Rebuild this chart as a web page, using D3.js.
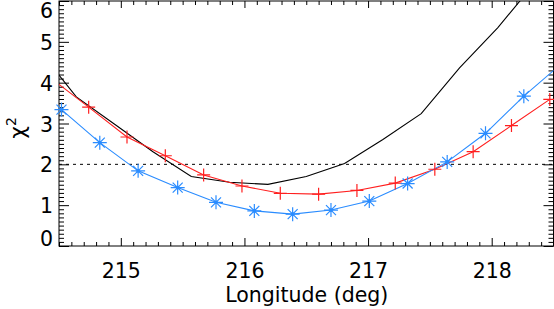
<!DOCTYPE html>
<html>
<head>
<meta charset="utf-8">
<script src="https://cdn.jsdelivr.net/npm/d3@7"></script>
<style>
  body { margin: 0; background: #fff; }
  svg { display: block; }
  text { font-family: "DejaVu Sans", sans-serif; fill: #000; }
</style>
</head>
<body>
<div id="chart"></div>
<script>
// 数据：经度 (deg) 与 χ² 值
const blueLon = [214.52, 214.83, 215.14, 215.46, 215.77, 216.08, 216.39, 216.70, 217.01, 217.32, 217.64, 217.95, 218.26, 218.57];
const blueChi = [3.34, 2.53, 1.84, 1.43, 1.07, 0.86, 0.78, 0.88, 1.10, 1.53, 2.06, 2.76, 3.67, 4.48];

const redLon = [214.43, 214.74, 215.05, 215.36, 215.67, 215.98, 216.29, 216.60, 216.91, 217.22, 217.54, 217.85, 218.16, 218.47];
const redChi = [4.12, 3.40, 2.67, 2.21, 1.74, 1.47, 1.29, 1.27, 1.36, 1.54, 1.88, 2.31, 2.95, 3.59];

const blackLon = [214.33, 214.64, 214.95, 215.26, 215.57, 215.88, 216.19, 216.50, 216.81, 217.12, 217.43, 217.74, 218.05, 218.36];
const blackChi = [4.84, 3.65, 2.98, 2.31, 1.70, 1.56, 1.51, 1.70, 2.02, 2.61, 3.24, 4.36, 5.35, 6.48];

const xTicks = [215, 216, 217, 218];
const yTicks = [0, 1, 2, 3, 4, 5, 6];
const threshold = 2;

const width = 554, height = 309;
const plot = { left: 59, right: 553.5, top: 1, bottom: 246 };

const x = d3.scaleLinear().domain([214.5, 218.5]).range([plot.left, plot.right]);
const y = d3.scaleLinear().domain([0, 6]).range([plot.bottom, plot.top]);

const svg = d3.select('#chart').append('svg')
    .attr('width', width)
    .attr('height', height);

svg.append('clipPath').attr('id', 'clip')
  .append('rect')
    .attr('x', plot.left).attr('y', plot.top)
    .attr('width', plot.right - plot.left).attr('height', plot.bottom - plot.top);

// 次刻度
const xMinor = d3.range(2145, 2186).map(d => d / 10).filter(d => !xTicks.includes(d));
const yMinor = d3.range(0, 61).map(d => d / 10).filter(d => !yTicks.includes(d));

function styleAxis(g) {
    g.select('.domain').remove();
    g.selectAll('line').attr('stroke', '#000');
}

// 底部
svg.append('g').attr('transform', `translate(0,${plot.bottom})`)
    .call(d3.axisBottom(x).tickValues(xTicks).tickSize(-8).tickPadding(17).tickFormat(d3.format('d')))
    .call(styleAxis)
    .call(g => g.selectAll('text').style('font-size', '20.5px'));
svg.append('g').attr('transform', `translate(0,${plot.bottom})`)
    .call(d3.axisBottom(x).tickValues(xMinor).tickSize(-4).tickFormat(''))
    .call(styleAxis);

// 顶部
svg.append('g').attr('transform', `translate(0,${plot.top})`)
    .call(d3.axisTop(x).tickValues(xTicks).tickSize(-7).tickFormat(''))
    .call(styleAxis);
svg.append('g').attr('transform', `translate(0,${plot.top})`)
    .call(d3.axisTop(x).tickValues(xMinor).tickSize(-4).tickFormat(''))
    .call(styleAxis);

// 左侧
svg.append('g').attr('transform', `translate(${plot.left},0)`)
    .call(d3.axisLeft(y).tickValues(yTicks).tickSize(-10).tickPadding(6).tickFormat(d3.format('d')))
    .call(styleAxis)
    .call(g => g.selectAll('text')
        .style('font-size', '20.5px')
        .attr('dy', d => d === 0 ? '-0.02em' : d === 6 ? '0.8em' : '0.37em'));
svg.append('g').attr('transform', `translate(${plot.left},0)`)
    .call(d3.axisLeft(y).tickValues(yMinor).tickSize(-5).tickFormat(''))
    .call(styleAxis);

// 右侧
svg.append('g').attr('transform', `translate(${plot.right},0)`)
    .call(d3.axisRight(y).tickValues(yTicks).tickSize(-10).tickFormat(''))
    .call(styleAxis);
svg.append('g').attr('transform', `translate(${plot.right},0)`)
    .call(d3.axisRight(y).tickValues(yMinor).tickSize(-5).tickFormat(''))
    .call(styleAxis);

// 边框
svg.append('rect')
    .attr('x', plot.left).attr('y', plot.top)
    .attr('width', plot.right - plot.left).attr('height', plot.bottom - plot.top)
    .attr('fill', 'none').attr('stroke', '#000').attr('stroke-width', 1);

// 阈值虚线
svg.append('line')
    .attr('x1', plot.left).attr('x2', plot.right)
    .attr('y1', y(threshold)).attr('y2', y(threshold))
    .attr('stroke', '#000').attr('stroke-width', 1)
    .attr('stroke-dasharray', '3,4');

const lineGen = d3.line().x(d => x(d[0])).y(d => y(d[1]));
const layer = svg.append('g').attr('clip-path', 'url(#clip)');

const series = [
    { lon: blackLon, chi: blackChi, color: '#000000', marker: null },
    { lon: redLon, chi: redChi, color: '#ff1f1f', marker: 'plus' },
    { lon: blueLon, chi: blueChi, color: '#2a8cff', marker: 'star' }
];

const markerPath = {
    plus: 'M-6.5,0H6.5M0,-6.5V6.5',
    star: 'M-7,0H7M0,-7V7M-5,-5L5,5M-5,5L5,-5'
};

series.forEach(s => {
    const pts = s.lon.map((v, i) => [v, s.chi[i]]);
    layer.append('path')
        .datum(pts)
        .attr('fill', 'none')
        .attr('stroke', s.color)
        .attr('stroke-width', 1.1)
        .attr('d', lineGen);

    if (s.marker) {
        const inside = pts.filter(d => d[0] >= 214.5 && d[0] <= 218.5);
        const g = svg.append('g');
        g.selectAll('path.mk')
            .data(inside)
            .enter().append('path')
            .attr('class', 'mk')
            .attr('transform', d => `translate(${x(d[0])},${y(d[1])})`)
            .attr('d', markerPath[s.marker])
            .attr('fill', 'none')
            .attr('stroke', s.color)
            .attr('stroke-width', 1.2);
        if (s.marker === 'star') {
            g.selectAll('circle')
                .data(inside)
                .enter().append('circle')
                .attr('cx', d => x(d[0]))
                .attr('cy', d => y(d[1]))
                .attr('r', 1.8)
                .attr('fill', s.color);
        }
    }
});

// 轴标题
svg.append('text')
    .attr('x', (plot.left + plot.right) / 2 + 0.5)
    .attr('y', 302)
    .attr('text-anchor', 'middle')
    .style('font-size', '20.5px')
    .text('Longitude (deg)');

const yLabel = svg.append('text')
    .attr('transform', 'translate(25,128) rotate(-90)')
    .attr('text-anchor', 'middle')
    .style('font-size', '22px');
yLabel.append('tspan').text('χ');
yLabel.append('tspan').attr('dy', '-9').style('font-size', '14px').text('2');
</script>
</body>
</html>
